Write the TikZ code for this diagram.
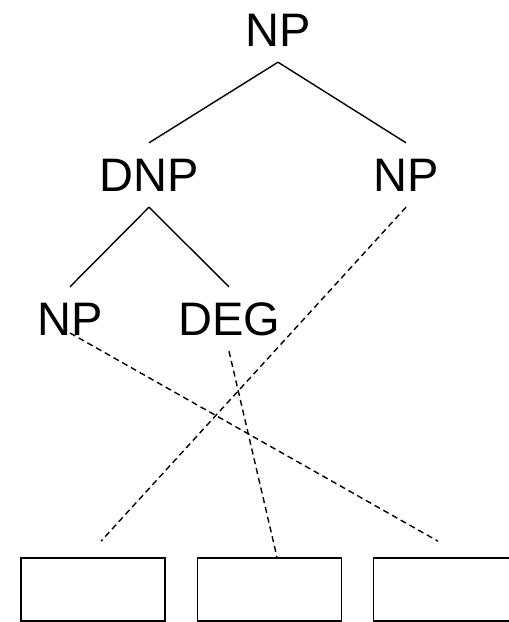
\documentclass[tikz,border=0pt]{standalone}
\usepackage{fontspec}
\setmainfont{Liberation Sans}
\usetikzlibrary{calc}
\begin{document}
\begin{tikzpicture}[x=1pt,y=1pt,
  cat/.style={inner sep=0pt,minimum height=64pt,font=\fontsize{47}{56}\selectfont},
  branch/.style={line width=1.4pt},
  link/.style={line width=1.4pt,dash pattern=on 6pt off 4pt},
  slot/.style={draw,line width=1.6pt,minimum width=144pt,minimum height=63pt,inner sep=0pt}]
  \clip (0,0) rectangle (509,622);
  \useasboundingbox (0,0) rectangle (509,622);
  % tree
  \node[cat] (top) at (278,592) {NP};
  \node[cat] (dnp) at (149,447) {DNP};
  \node[cat] (np1) at (406,447) {NP};
  \node[cat] (np2) at (70,303) {NP};
  \node[cat] (deg) at (229,303) {DEG};
  \draw[branch] (top.south) -- (dnp.north);
  \draw[branch] (top.south) -- (np1.north);
  \draw[branch] (dnp.south) -- (np2.north);
  \draw[branch] (dnp.south) -- (deg.north);
  % empty slots
  \node[slot] (b1) at (93,32.5) {};
  \node[slot] (b2) at (269.5,32.5) {};
  \node[slot] (b3) at (445.5,32.5) {};
  \coordinate (e1) at ($(b1.north)+(8,16)$);
  \coordinate (e2) at ($(b2.north)+(7.5,0)$);
  \coordinate (e3) at ($(b3.north)+(-7.5,16)$);
  \coordinate (s2) at ($(np2.center)+(0,-14)$);
  % alignment links
  \draw[link] (np1.south) -- (e1);
  \draw[link] (deg.south) -- (e2);
  \draw[link] (s2) -- (e3);
\end{tikzpicture}
\end{document}
